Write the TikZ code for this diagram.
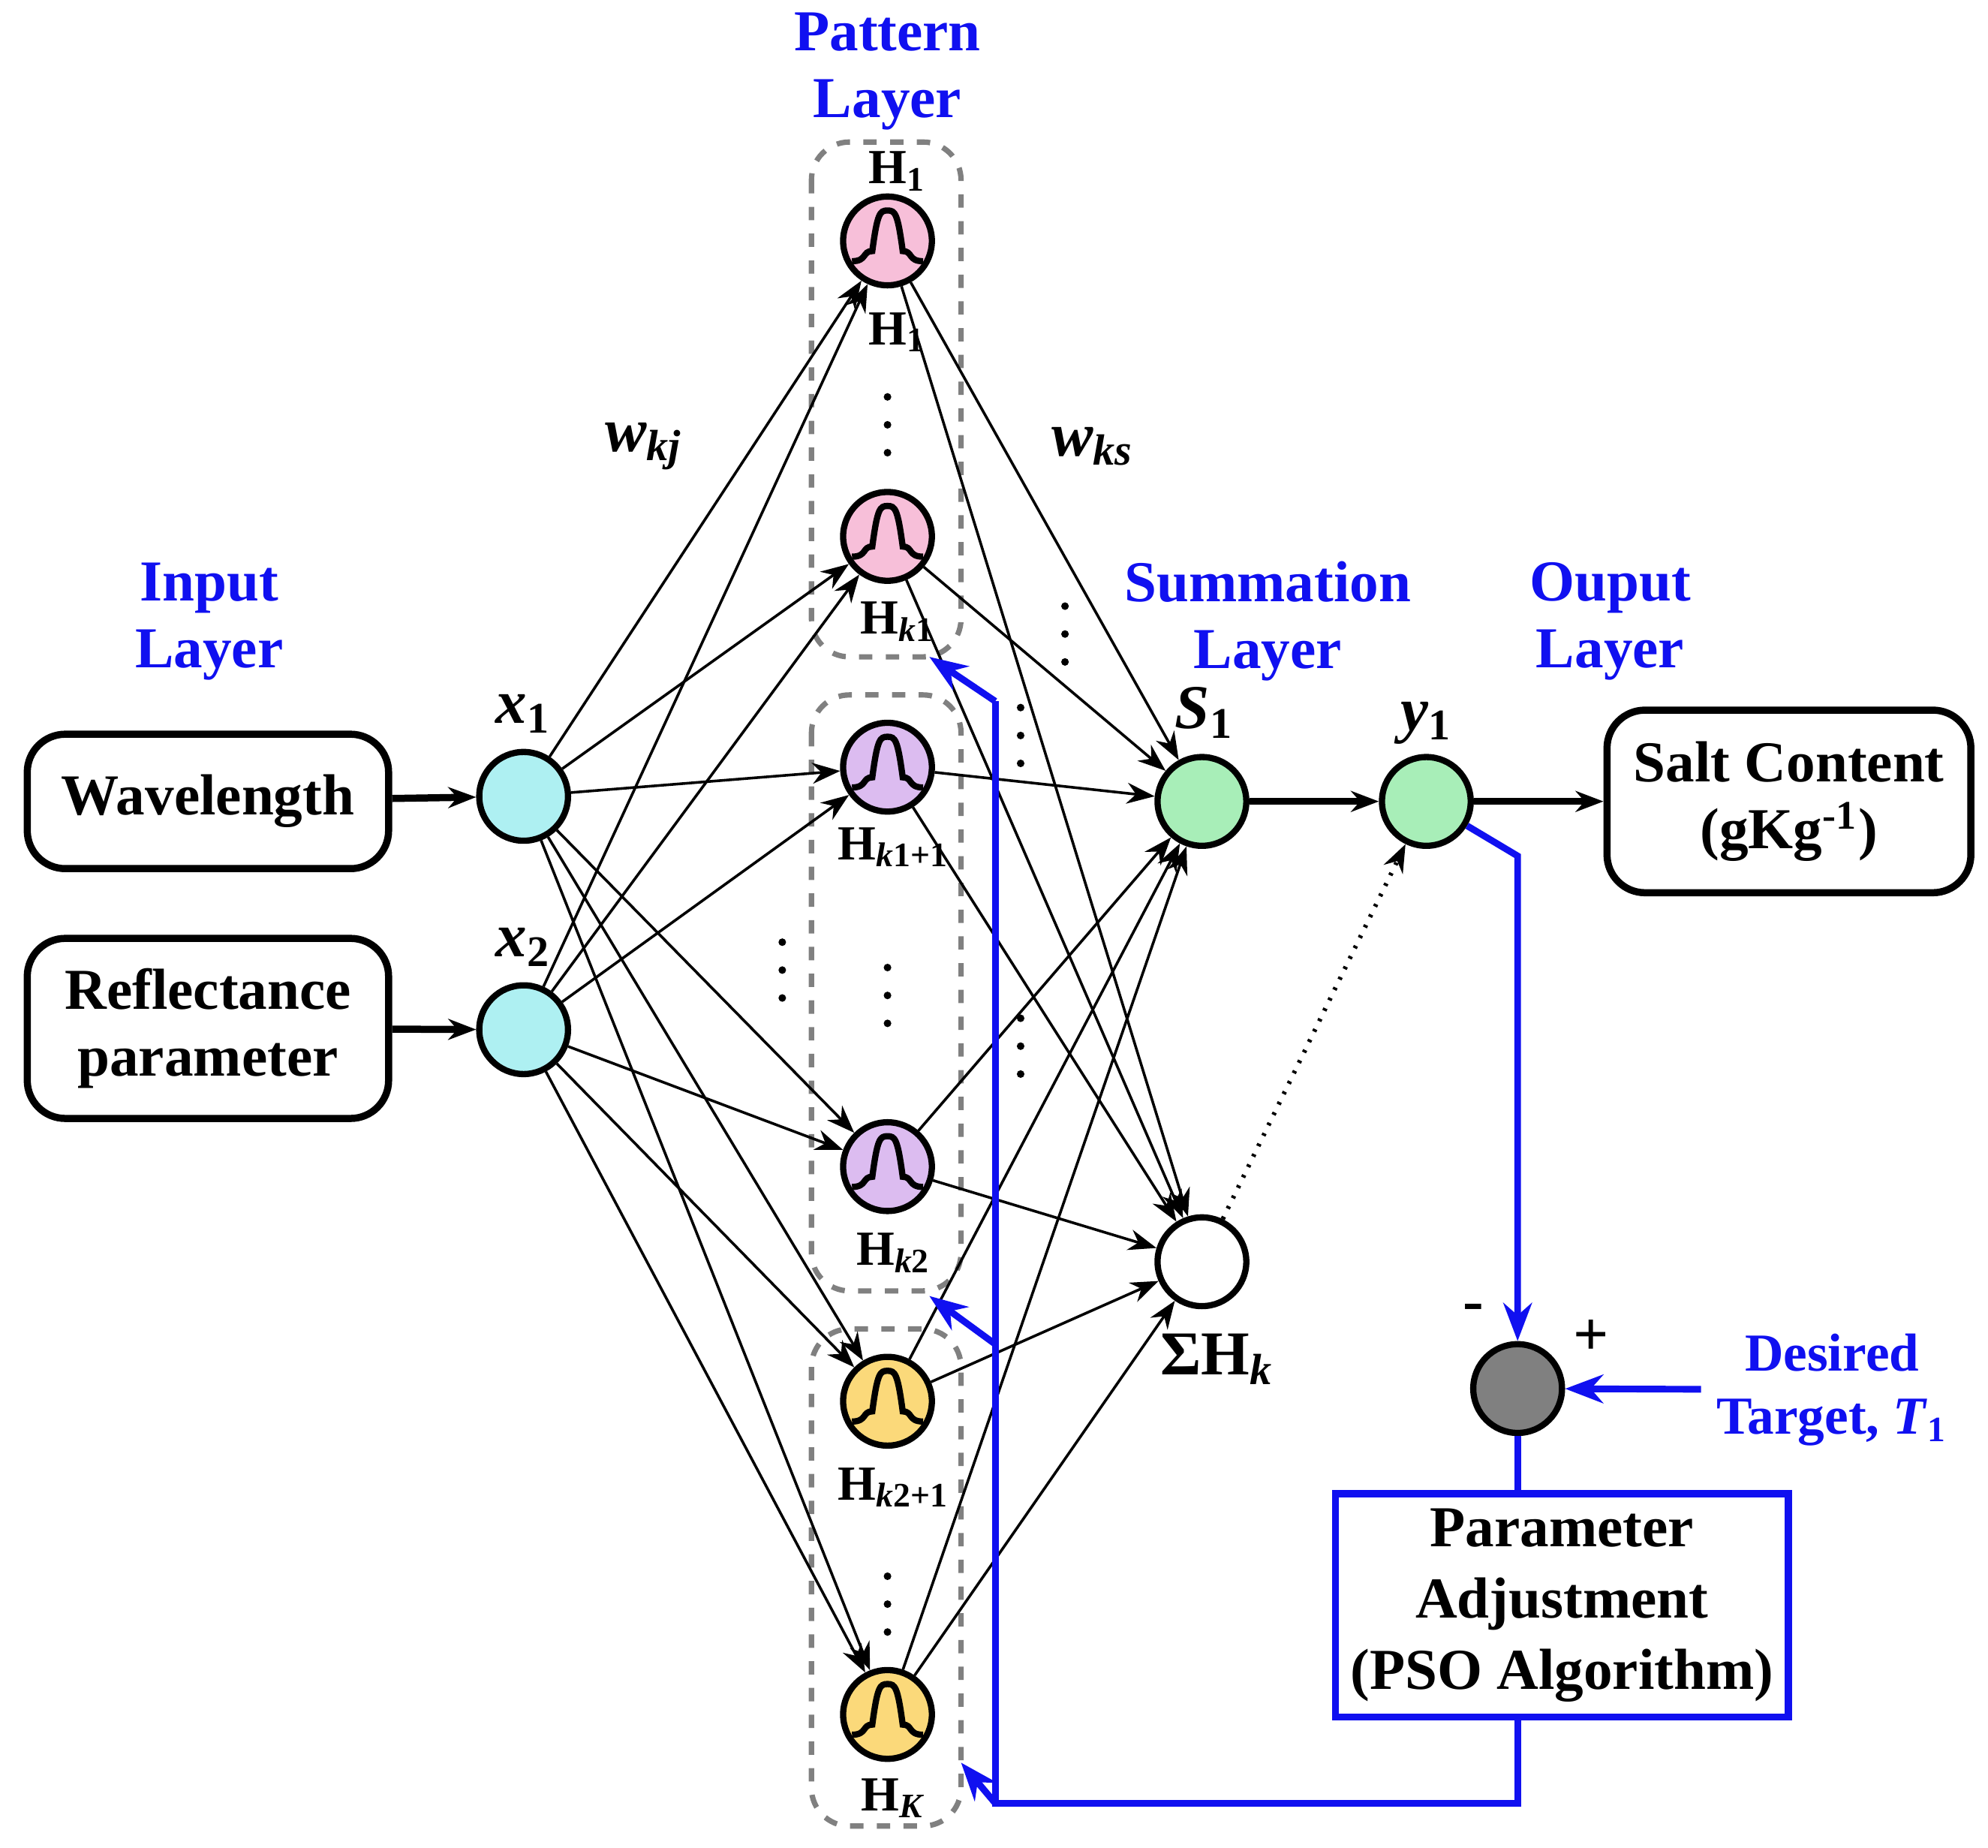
\documentclass[tikz,border=0pt]{standalone}
\usepackage{fontspec}
\setmainfont{Liberation Serif}
\usetikzlibrary{arrows.meta}
\definecolor{cx}{HTML}{AEF0F2}
\definecolor{cpink}{HTML}{F7BFD9}
\definecolor{clil}{HTML}{DCBCF0}
\definecolor{cyel}{HTML}{FBD97A}
\definecolor{cgrn}{HTML}{A8EEB8}
\definecolor{cblue}{HTML}{1010F0}
\begin{document}
\begin{tikzpicture}[x=0.1mm,y=-0.1mm,
  neuron/.style={circle,draw,line width=1.4pt,minimum size=7mm,inner sep=0pt},
  box/.style={draw,rounded corners=3mm,line width=1.6pt,font=\fontsize{13}{15}\selectfont\bfseries,align=center},
  lab/.style={font=\fontsize{11}{13}\selectfont\bfseries},
  layer/.style={text=cblue,font=\fontsize{13}{15}\selectfont\bfseries,align=center},
  con/.style={-{Stealth[length=2.2mm]},line width=0.6pt},
  fb/.style={cblue,line width=1.5pt},
  grp/.style={draw=gray,dashed,line width=1.2pt,rounded corners=3mm}]
\useasboundingbox (0,0) rectangle (1568,1457);
% groups
\draw[grp] (640,112) rectangle (758,518);
\draw[grp] (640,548) rectangle (758,1018);
\draw[grp] (640,1048) rectangle (758,1440);
% boxes
\node[box,minimum width=28.5mm,minimum height=10.6mm] (wl) at (164,632) {Wavelength};
\node[box,minimum width=28.5mm,minimum height=14.2mm] (rp) at (164,811) {Reflectance\\parameter};
\node[box,minimum width=28.7mm,minimum height=14.4mm] (sc) at (1411,632) {Salt Content\\(gKg\textsuperscript{-1})};
\node[draw=cblue,line width=1.6pt,minimum width=35.5mm,minimum height=17.2mm,align=center,font=\fontsize{13}{16}\selectfont\bfseries] (pso) at (1232,1266) {Parameter\\Adjustment\\(PSO Algorithm)};
% neurons
\node[neuron,fill=cx] (x1) at (413,628) {};
\node[neuron,fill=cx] (x2) at (413,812) {};
\node[neuron,fill=cpink] (h1) at (700,190) {};
\node[neuron,fill=cpink] (hk1) at (700,423) {};
\node[neuron,fill=clil] (hk1p) at (700,605) {};
\node[neuron,fill=clil] (hk2) at (700,920) {};
\node[neuron,fill=cyel] (hk2p) at (700,1105) {};
\node[neuron,fill=cyel] (hK) at (700,1352) {};
\node[neuron,fill=cgrn] (s1) at (948,632) {};
\node[neuron,fill=white] (sh) at (948,995) {};
\node[neuron,fill=cgrn] (y1) at (1125,632) {};
\node[neuron,fill=gray] (er) at (1197,1095) {};
% bells
\foreach \n in {h1,hk1,hk1p,hk2,hk2p,hK}
  \draw[line width=1.4pt] ([shift={(-28,16)}]\n.center) .. controls ++(12,0) and ++(-8,0) .. ++(16,-8)
    .. controls ++(4,-30) and ++(-6,0) .. ++(12,-32) .. controls ++(6,0) and ++(-4,-30) .. ++(12,32)
    .. controls ++(8,0) and ++(-12,0) .. ++(16,8);
% connections
\foreach \a in {x1,x2}
  \foreach \b in {h1,hk1,hk1p,hk2,hk2p,hK}
    \draw[con] (\a) -- (\b);
\foreach \a in {h1,hk1,hk1p,hk2,hk2p,hK}
  \foreach \b in {s1,sh}
    \draw[con] (\a) -- (\b);
\draw[con,line width=1.6pt] (wl) -- (x1);
\draw[con,line width=1.6pt] (rp) -- (x2);
\draw[con,line width=1.6pt] (s1) -- (y1);
\draw[con,dotted,line width=1pt] (sh) -- (y1);
\draw[con,line width=1.6pt] (y1) -- (sc);
% feedback
\coordinate (k1) at (1197,675);
\draw[fb,-{Stealth[length=3mm]}] (y1) -- (k1) -- (er);
\node[layer,font=\fontsize{12}{14}\selectfont\bfseries] (dt) at (1445,1096) {Desired\\Target, \textit{T}\textsubscript{1}};
\draw[fb,-{Stealth[length=3mm]}] (dt) -- (er);
\draw[fb] (er) -- (er |- pso.north);
\coordinate (c1) at (1197,1422);
\coordinate (c2) at (785,1422);
\coordinate (c3) at (785,553);
\coordinate (c4) at (785,1060);
\coordinate (t1) at (733,518);
\coordinate (t2) at (733,1022);
\coordinate (t3) at (758,1390);
\draw[fb] (c1 |- pso.south) -- (c1) -- (c2) -- (c3);
\draw[fb,-{Stealth[length=3mm]}] (c3) -- (t1);
\draw[fb,-{Stealth[length=3mm]}] (c4) -- (t2);
\draw[fb,-{Stealth[length=3mm]}] (c2) -- (t3);
% labels
\node[layer] at (700,56) {Pattern\\Layer};
\node[layer] at (165,490) {Input\\Layer};
\node[layer] at (1000,490) {Summation\\Layer};
\node[layer] at (1270,490) {Ouput\\Layer};
\node[font=\fontsize{14}{16}\selectfont\bfseries\itshape] at (508,352) {w\textsubscript{\textit{kj}}};
\node[font=\fontsize{14}{16}\selectfont\bfseries\itshape] at (862,352) {w\textsubscript{\textit{ks}}};
\node[lab] at (708,135) {H\textsubscript{1}};
\node[lab] at (708,262) {H\textsubscript{1}};
\node[lab] at (708,490) {H\textsubscript{\textit{k}1}};
\node[lab] at (705,668) {H\textsubscript{\textit{k}1+1}};
\node[lab] at (705,988) {H\textsubscript{\textit{k}2}};
\node[lab] at (705,1173) {H\textsubscript{\textit{k}2+1}};
\node[lab] at (705,1418) {H\textsubscript{\textit{K}}};
\node[font=\fontsize{14}{16}\selectfont\bfseries\itshape] at (413,563) {x\textsubscript{\upshape 1}};
\node[font=\fontsize{14}{16}\selectfont\bfseries\itshape] at (413,747) {x\textsubscript{\upshape 2}};
\node[font=\fontsize{14}{16}\selectfont\bfseries\itshape] at (950,562) {S\textsubscript{\upshape 1}};
\node[font=\fontsize{14}{16}\selectfont\bfseries\itshape] at (1125,570) {y\textsubscript{\upshape 1}};
\node[font=\fontsize{14}{16}\selectfont\bfseries] at (960,1072) {ΣH\textsubscript{\textit{k}}};
\node[font=\fontsize{14}{16}\selectfont\bfseries] at (1162,1035) {-};
\node[font=\fontsize{14}{16}\selectfont\bfseries] at (1255,1055) {+};
% vertical ellipses
\foreach \x/\y in {700/335,617/765,700/785,700/1265,840/500,805/580,805/825}
  \foreach \d in {-22,0,22}
    \fill (\x,\y+\d) circle (3);
\end{tikzpicture}
\end{document}
